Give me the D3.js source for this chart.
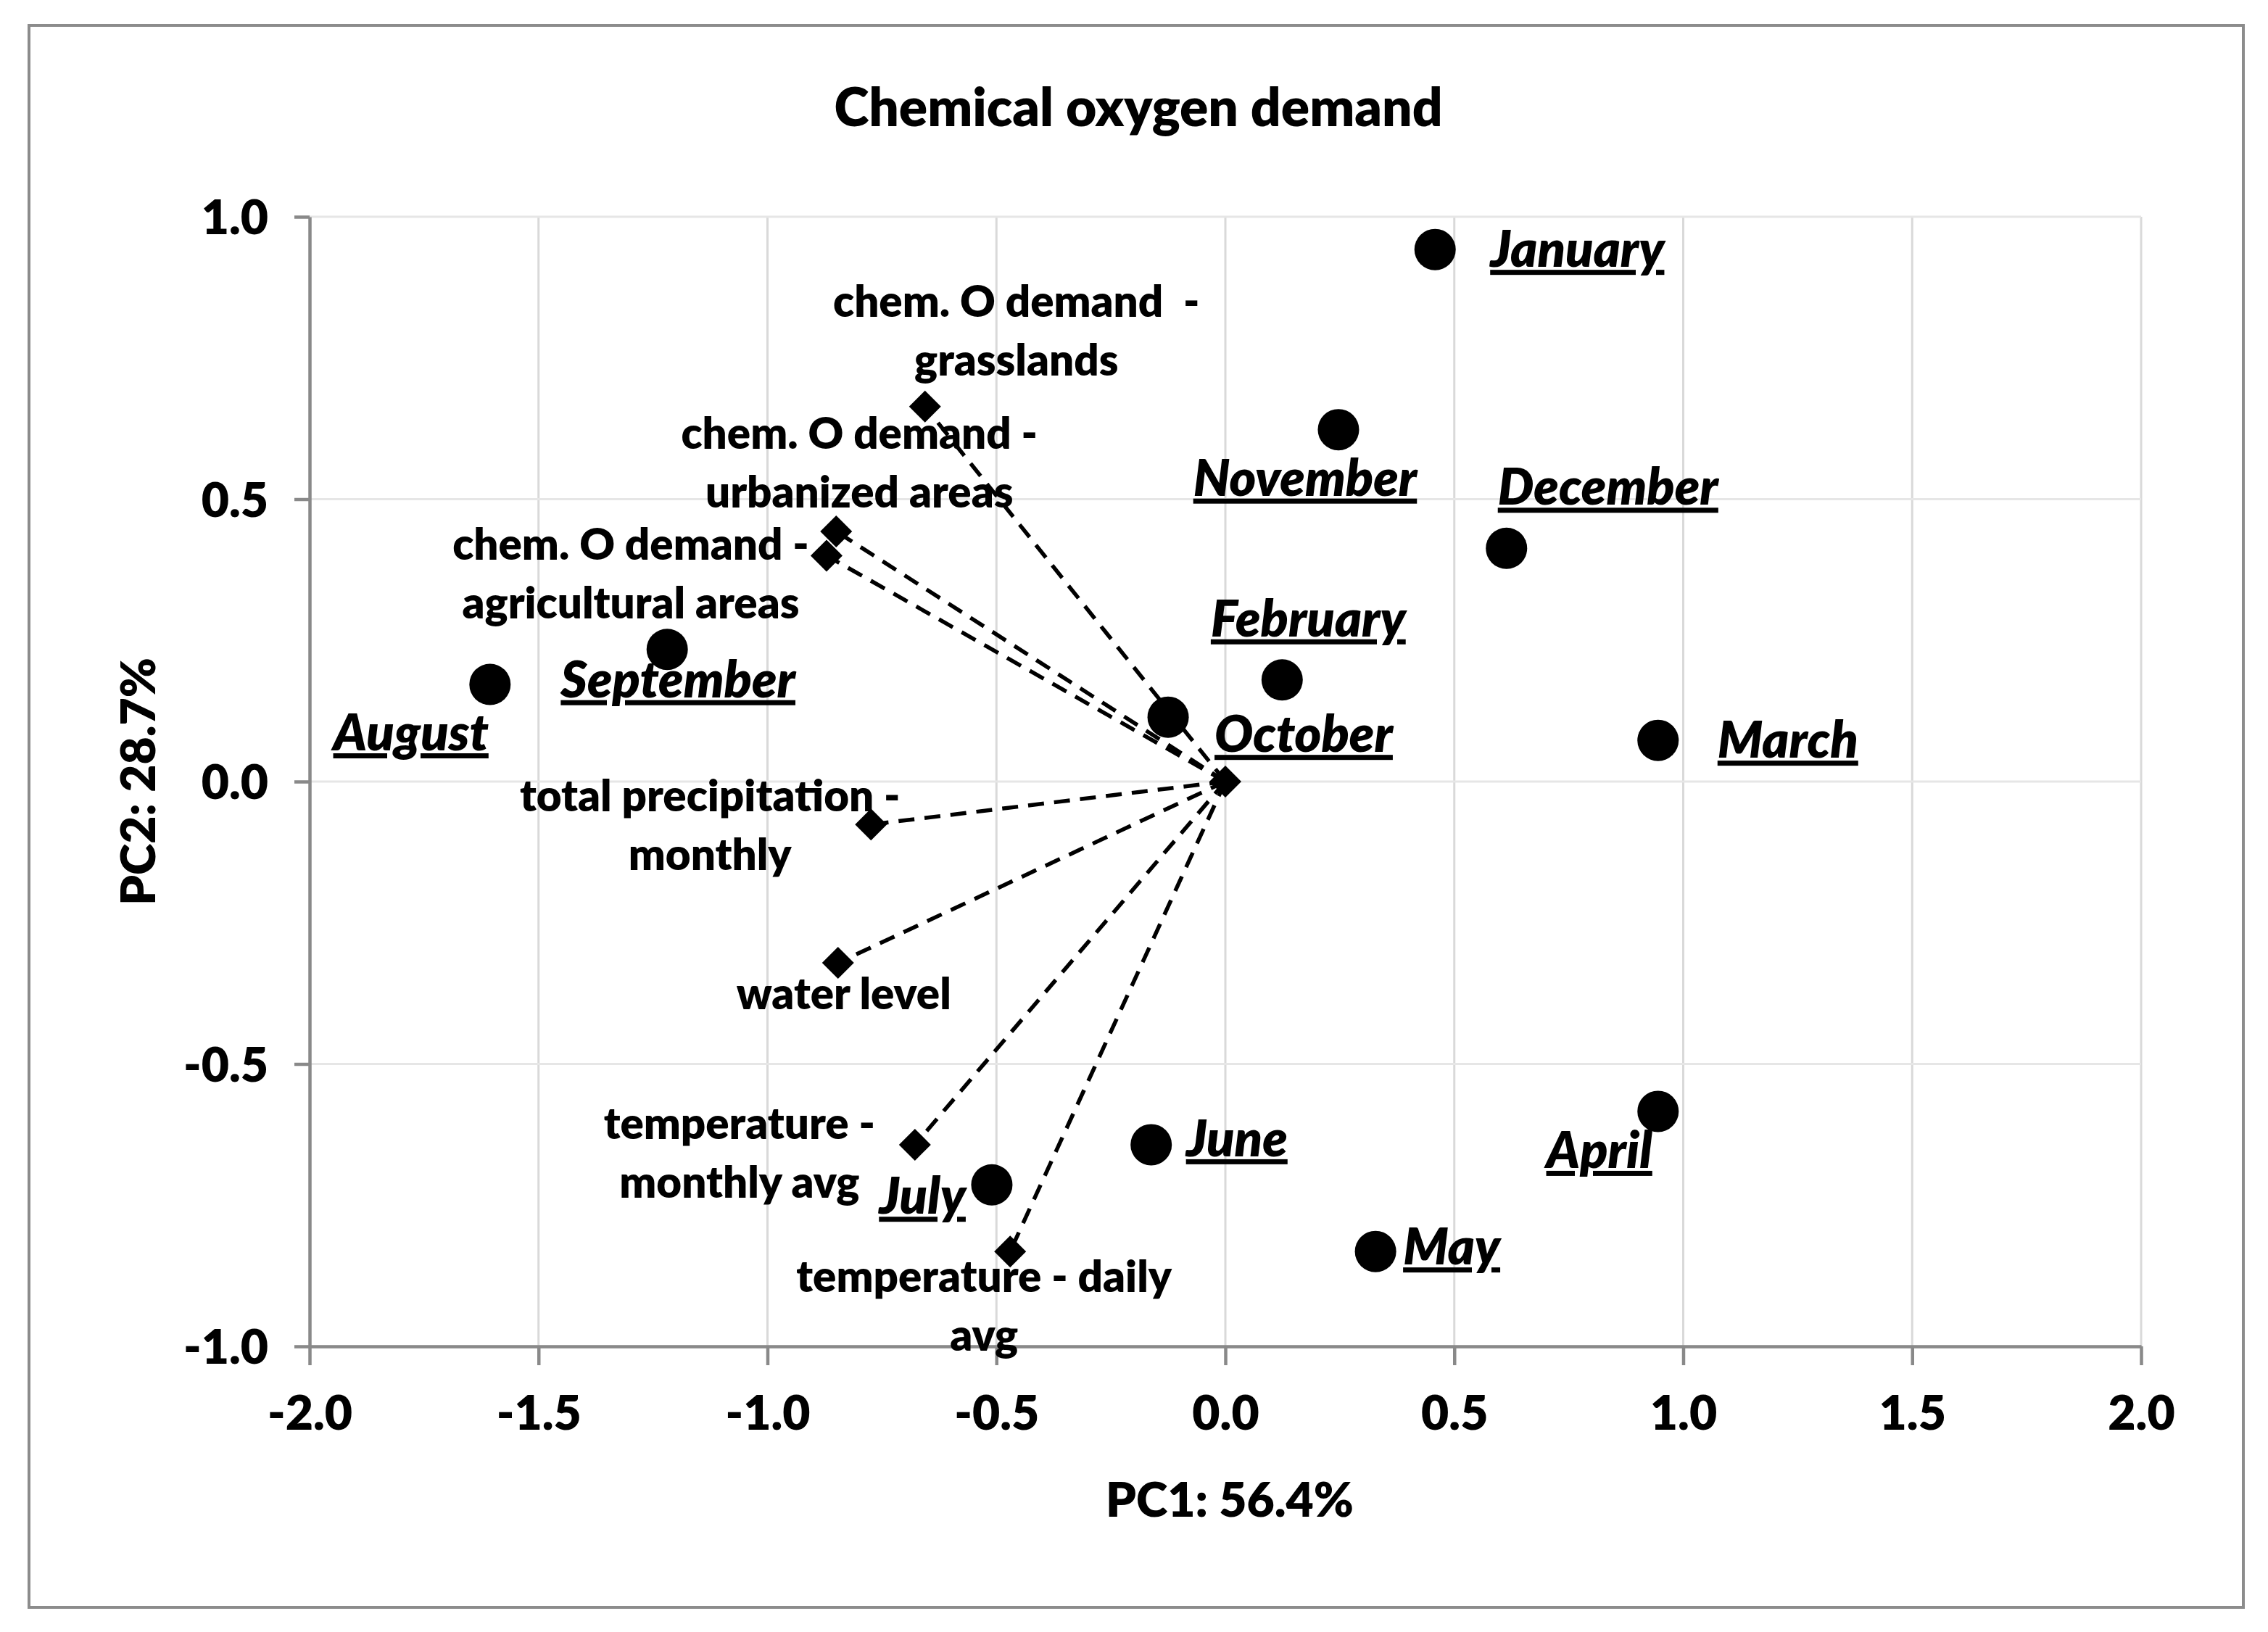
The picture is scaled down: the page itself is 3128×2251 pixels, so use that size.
<!DOCTYPE html>
<html>
<head>
<meta charset="utf-8">
<script src="https://cdn.jsdelivr.net/npm/d3@7"></script>
<style>
  html, body { margin: 0; padding: 0; background: #fff; }
  svg text { font-family: "Lato", "Open Sans", sans-serif; font-weight: 800; fill: #000; }
</style>
</head>
<body>
<div id="chart"></div>
<script>
// --- DATA ---
const months = ["January", "February", "March", "April", "May", "June",
                "July", "August", "September", "October", "November", "December"];
const monthPC1 = [0.458, 0.124, 0.945, 0.945, 0.328, -0.162, -0.510, -1.606, -1.219, -0.125, 0.247, 0.614];
const monthPC2 = [0.942, 0.180, 0.073, -0.584, -0.832, -0.643, -0.714, 0.172, 0.234, 0.114, 0.623, 0.413];

const variables = [
    ["chem. O demand  -", "grasslands"],
    ["chem. O demand -", "urbanized areas"],
    ["chem. O demand -", "agricultural areas"],
    ["total precipitation -", "monthly"],
    ["water level"],
    ["temperature -", "monthly avg"],
    ["temperature - daily", "avg"]
];
const loadPC1 = [-0.656, -0.850, -0.871, -0.774, -0.846, -0.678, -0.470];
const loadPC2 = [0.664, 0.443, 0.400, -0.076, -0.321, -0.643, -0.832];

const xTicks = [-2.0, -1.5, -1.0, -0.5, 0.0, 0.5, 1.0, 1.5, 2.0];
const yTicks = [-1.0, -0.5, 0.0, 0.5, 1.0];

const titleText = "Chemical oxygen demand";
const xTitle = "PC1: 56.4%";
const yTitle = "PC2: 28.7%";

// --- LAYOUT (label placement, in px relative to the marker) ---
const monthLabelPos = {
    January:   { anchor: "start",  dx: 76,   dy: 24 },
    February:  { anchor: "middle", dx: 36,   dy: -60 },
    March:     { anchor: "start",  dx: 82,   dy: 24 },
    April:     { anchor: "end",    dx: -8,   dy: 78 },
    May:       { anchor: "start",  dx: 38,   dy: 18 },
    June:      { anchor: "start",  dx: 48,   dy: 16 },
    July:      { anchor: "end",    dx: -36,  dy: 40 },
    August:    { anchor: "end",    dx: -2,   dy: 91 },
    September: { anchor: "middle", dx: 15,   dy: 66 },
    October:   { anchor: "start",  dx: 64,   dy: 48 },
    November:  { anchor: "middle", dx: -46,  dy: 91 },
    December:  { anchor: "start",  dx: -12,  dy: -60 }
};
const varLabelPos = [
    { dx: 126,  dy: -124 },
    { dx: 32,   dy: -114 },
    { dx: -270, dy: 6 },
    { dx: -222, dy: -18 },
    { dx: 8,    dy: 64 },
    { dx: -242, dy: -8 },
    { dx: -36,  dy: 56 }
];
const lineGap = 81;

const W = 3128, H = 2251;
const plot = { left: 427, right: 2953, top: 299, bottom: 1857 };

const svg = d3.select("#chart").append("svg")
    .attr("width", W)
    .attr("height", H);

svg.append("rect")
    .attr("x", 0).attr("y", 0).attr("width", W).attr("height", H)
    .attr("fill", "#fff");

// chart border
svg.append("rect")
    .attr("x", 40).attr("y", 35)
    .attr("width", 3054).attr("height", 2182)
    .attr("fill", "none")
    .attr("stroke", "#8c8c8c")
    .attr("stroke-width", 4);

const x = d3.scaleLinear().domain([-2, 2]).range([plot.left, plot.right]);
const y = d3.scaleLinear().domain([-1, 1]).range([plot.bottom, plot.top]);

// --- GRID ---
const grid = svg.append("g");
grid.selectAll(".vgrid")
    .data(xTicks.slice(1))
    .enter().append("line")
    .attr("x1", d => x(d)).attr("x2", d => x(d))
    .attr("y1", plot.top).attr("y2", plot.bottom)
    .attr("stroke", "#d9d9d9")
    .attr("stroke-width", 3);
grid.selectAll(".hgrid")
    .data(yTicks.slice(1))
    .enter().append("line")
    .attr("x1", plot.left).attr("x2", plot.right)
    .attr("y1", d => y(d)).attr("y2", d => y(d))
    .attr("stroke", "#e6e6e6")
    .attr("stroke-width", 3);

// --- AXES ---
const xAxis = svg.append("g")
    .attr("transform", `translate(0,${plot.bottom})`)
    .call(d3.axisBottom(x).tickValues(xTicks).tickFormat(d3.format(".1f")).tickSize(26).tickSizeOuter(0).tickPadding(42));
const yAxis = svg.append("g")
    .attr("transform", `translate(${plot.left},0)`)
    .call(d3.axisLeft(y).tickValues(yTicks).tickFormat(d3.format(".1f")).tickSize(21).tickSizeOuter(0).tickPadding(36));

[xAxis, yAxis].forEach(a => {
    a.select(".domain").attr("stroke", "#898989").attr("stroke-width", 4.5);
    a.selectAll(".tick line").attr("stroke", "#898989").attr("stroke-width", 4.5);
    a.selectAll(".tick text")
        .attr("fill", "#000")
        .style("font-family", "Lato, sans-serif")
        .style("font-weight", "800")
        .style("font-size", "66px")
        .text(d => d3.format(".1f")(d).replace("−", "-"));
});
yAxis.selectAll(".tick text").attr("dy", "0.36em");

// --- TITLES ---
svg.append("text")
    .attr("x", 1570).attr("y", 174)
    .attr("text-anchor", "middle")
    .style("font-size", "73px")
    .text(titleText);

svg.append("text")
    .attr("x", 1696).attr("y", 2092)
    .attr("text-anchor", "middle")
    .style("font-size", "66px")
    .text(xTitle);

svg.append("text")
    .attr("transform", `translate(214,1078) rotate(-90)`)
    .attr("text-anchor", "middle")
    .style("font-size", "66px")
    .text(yTitle);

// --- LOADING VECTORS ---
const vecData = variables.map((lines, i) => ({ lines, pc1: loadPC1[i], pc2: loadPC2[i], pos: varLabelPos[i] }));

svg.append("g").selectAll("line")
    .data(vecData)
    .enter().append("line")
    .attr("x1", x(0)).attr("y1", y(0))
    .attr("x2", d => x(d.pc1)).attr("y2", d => y(d.pc2))
    .attr("stroke", "#000")
    .attr("stroke-width", 5.5)
    .attr("stroke-dasharray", "22 14");

const diamond = r => `M0,${-r}L${r},0L0,${r}L${-r},0Z`;

svg.append("g").selectAll("path")
    .data(vecData.concat([{ pc1: 0, pc2: 0 }]))
    .enter().append("path")
    .attr("d", diamond(22))
    .attr("transform", d => `translate(${x(d.pc1)},${y(d.pc2)})`)
    .attr("fill", "#000");

// --- MONTH SCORES ---
const monthData = months.map((m, i) => ({ name: m, pc1: monthPC1[i], pc2: monthPC2[i] }));

svg.append("g").selectAll("circle")
    .data(monthData)
    .enter().append("circle")
    .attr("cx", d => x(d.pc1))
    .attr("cy", d => y(d.pc2))
    .attr("r", 28.5)
    .attr("fill", "#000");

// variable labels
const varLabels = svg.append("g").selectAll("text")
    .data(vecData)
    .enter().append("text")
    .attr("text-anchor", "middle")
    .style("font-size", "60px")
    .attr("x", d => x(d.pc1) + d.pos.dx)
    .attr("y", d => y(d.pc2) + d.pos.dy);
varLabels.each(function(d) {
    const t = d3.select(this);
    d.lines.forEach((ln, k) => {
        t.append("tspan")
            .attr("x", x(d.pc1) + d.pos.dx)
            .attr("dy", k === 0 ? 0 : lineGap)
            .style("white-space", "pre")
            .text(ln);
    });
});

// month labels
svg.append("g").selectAll("text")
    .data(monthData)
    .enter().append("text")
    .attr("x", d => x(d.pc1) + monthLabelPos[d.name].dx)
    .attr("y", d => y(d.pc2) + monthLabelPos[d.name].dy)
    .attr("text-anchor", d => monthLabelPos[d.name].anchor)
    .style("font-size", "70px")
    .style("font-style", "italic")
    .style("text-decoration", "underline")
    .text(d => d.name);
</script>
</body>
</html>
